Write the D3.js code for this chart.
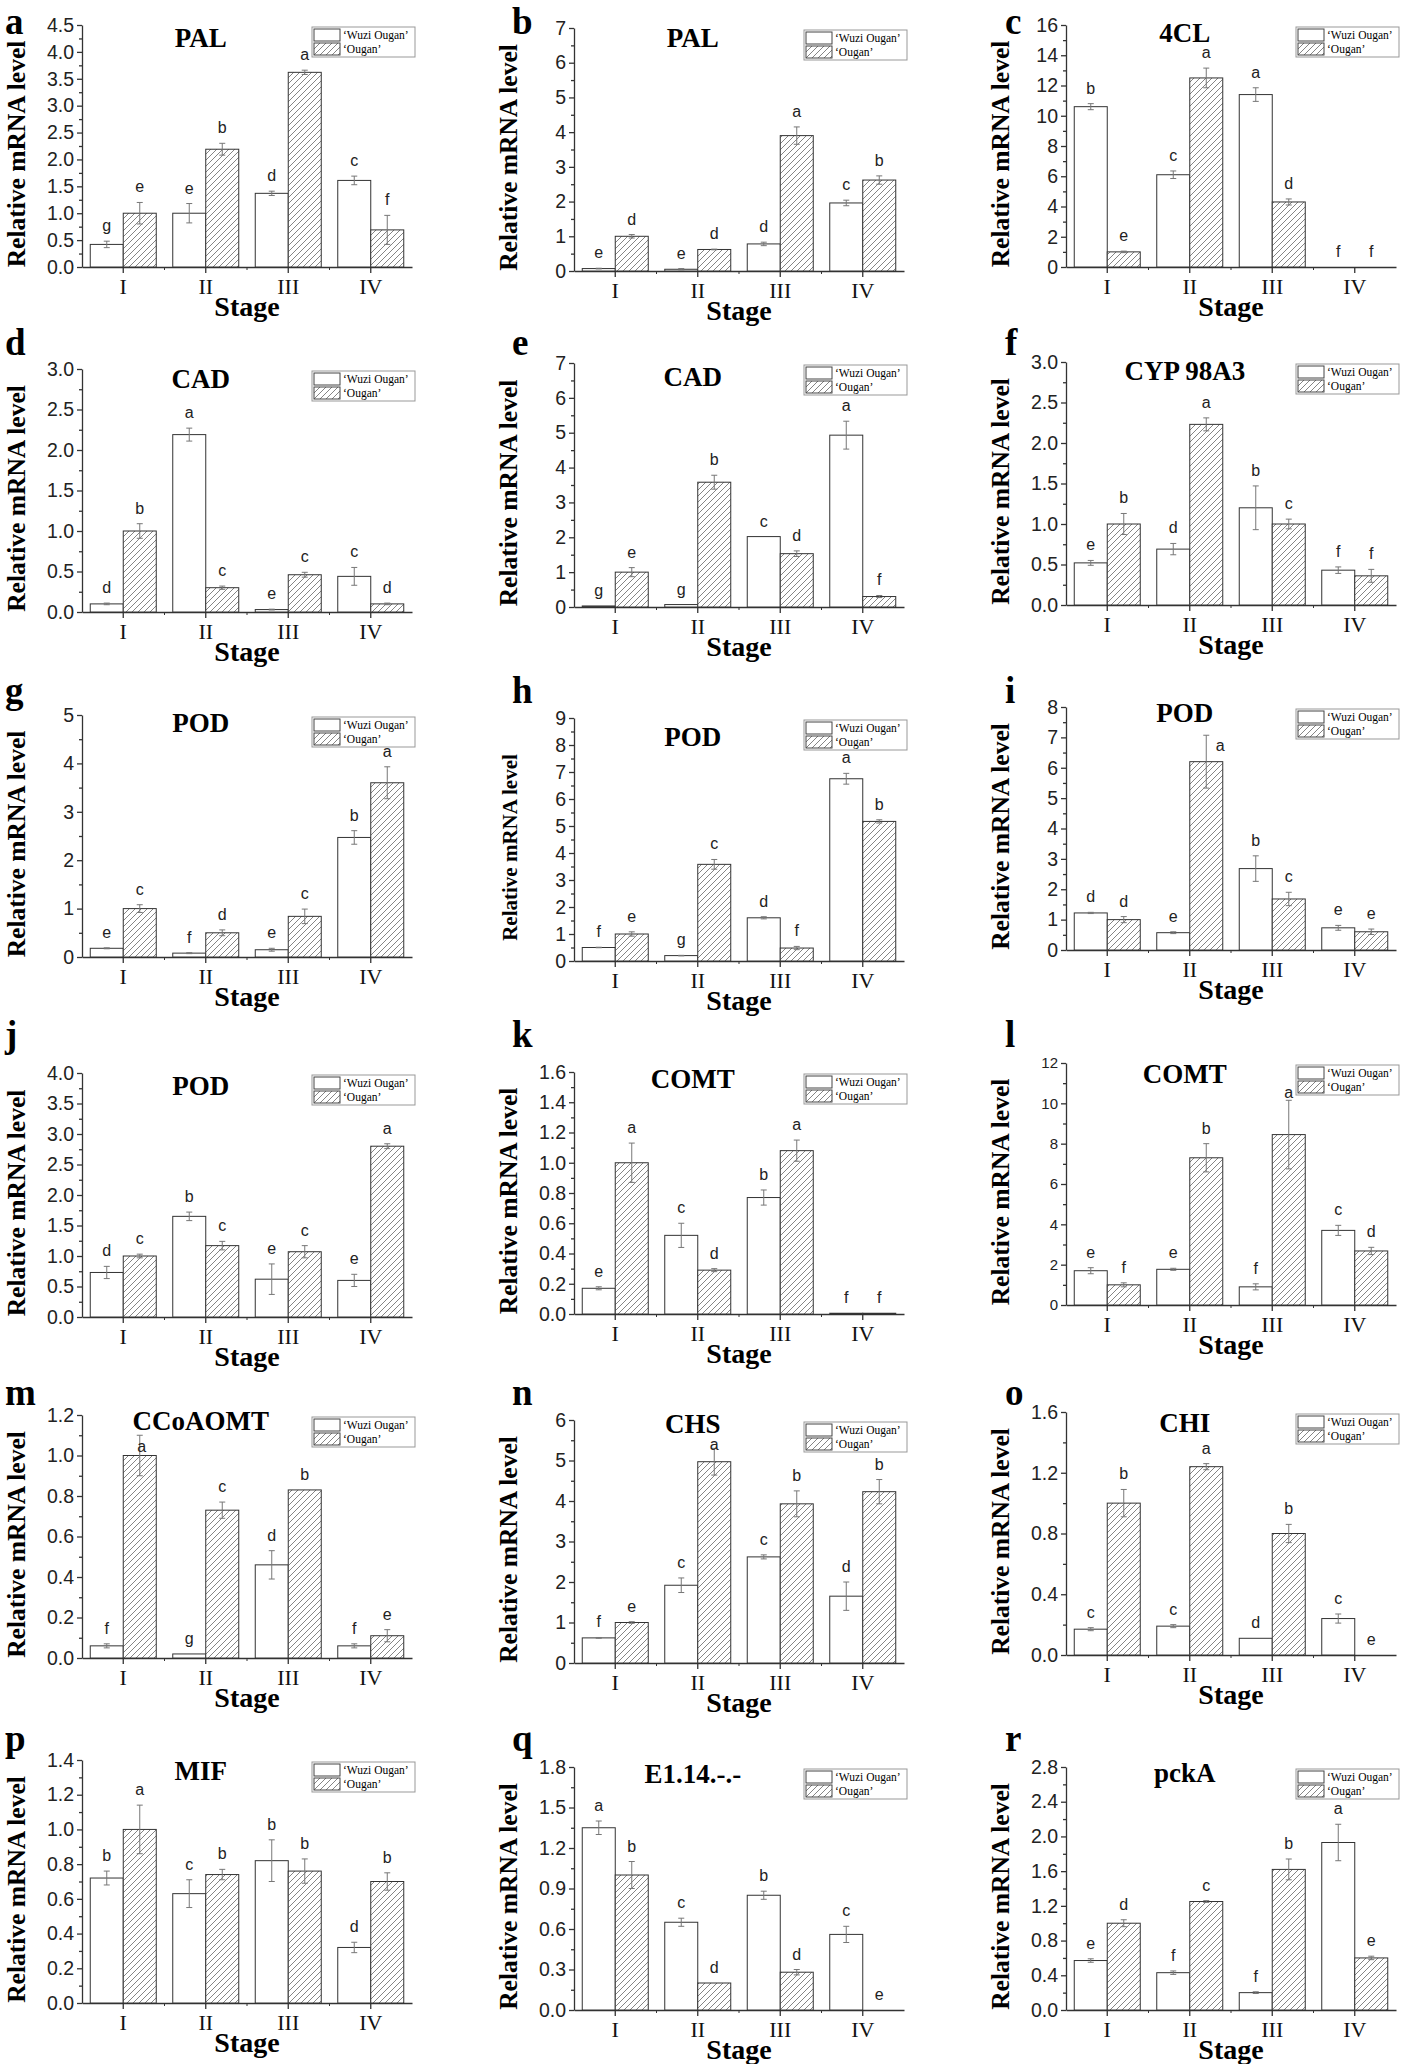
<!DOCTYPE html>
<html>
<head>
<meta charset="utf-8">
<script src="https://cdn.jsdelivr.net/npm/d3@7"></script>
<style>
    body { margin: 0; background: #fff; }
    svg { display: block; }
</style>
</head>
<body>
<div id="chart"></div>
<script>
//
// qRT-PCR panels a-r, 'Wuzi Ougan' vs 'Ougan'
//

var stages = ["I", "II", "III", "IV"];
var seriesNames = ["\u2018Wuzi Ougan\u2019", "\u2018Ougan\u2019"];
var panelLetters = ["a", "b", "c", "d", "e", "f", "g", "h", "i", "j", "k", "l", "m", "n", "o", "p", "q", "r"];
var genes = ["PAL", "PAL", "4CL", "CAD", "CAD", "CYP 98A3", "POD", "POD", "POD", "POD", "COMT", "COMT",
    "CCoAOMT", "CHS", "CHI", "MIF", "E1.14.-.-", "pckA"];

// y axis max and tick step for each panel
var yMax = [4.5, 7, 16, 3.0, 7, 3.0, 5, 9, 8, 4.0, 1.6, 12, 1.2, 6, 1.6, 1.4, 1.8, 2.8];
var yStep = [0.5, 1, 2, 0.5, 1, 0.5, 1, 1, 1, 0.5, 0.2, 2, 0.2, 1, 0.4, 0.2, 0.3, 0.4];

var wuziMean = [
    [0.42, 1.0, 1.37, 1.61],
    [0.07, 0.05, 0.78, 1.96],
    [10.6, 6.1, 11.4, 0],
    [0.1, 2.19, 0.03, 0.44],
    [0.03, 0.07, 2.02, 4.93],
    [0.52, 0.69, 1.2, 0.43],
    [0.18, 0.08, 0.15, 2.47],
    [0.5, 0.2, 1.6, 6.75],
    [1.22, 0.57, 2.68, 0.73],
    [0.73, 1.65, 0.62, 0.6],
    [0.17, 0.52, 0.77, 0.005],
    [1.7, 1.77, 0.9, 3.7],
    [0.06, 0.02, 0.46, 0.06],
    [0.62, 1.92, 2.62, 1.65],
    [0.17, 0.19, 0.11, 0.24],
    [0.72, 0.63, 0.82, 0.32],
    [1.35, 0.65, 0.85, 0.56],
    [0.57, 0.43, 0.2, 1.93]
];
var wuziErr = [
    [0.06, 0.18, 0.04, 0.08],
    [0.01, 0.02, 0.05, 0.08],
    [0.2, 0.25, 0.45, 0],
    [0.01, 0.08, 0.005, 0.11],
    [0, 0, 0, 0.4],
    [0.03, 0.07, 0.27, 0.04],
    [0.01, 0.01, 0.03, 0.14],
    [0.01, 0.01, 0.04, 0.2],
    [0.02, 0.03, 0.42, 0.08],
    [0.1, 0.07, 0.25, 0.1],
    [0.01, 0.08, 0.05, 0],
    [0.15, 0.05, 0.15, 0.25],
    [0.01, 0, 0.07, 0.01],
    [0.01, 0.18, 0.05, 0.35],
    [0.01, 0.01, 0, 0.03],
    [0.04, 0.08, 0.12, 0.03],
    [0.05, 0.03, 0.03, 0.06],
    [0.02, 0.02, 0.01, 0.21]
];
var ouganMean = [
    [1.0, 2.19, 3.62, 0.69],
    [1.0, 0.62, 3.9, 2.62],
    [1.0, 12.5, 4.3, 0],
    [1.0, 0.3, 0.46, 0.1],
    [1.0, 3.58, 1.53, 0.3],
    [1.0, 2.23, 1.0, 0.36],
    [1.0, 0.5, 0.84, 3.6],
    [1.0, 3.58, 0.48, 5.17],
    [1.0, 6.2, 1.68, 0.6],
    [1.0, 1.17, 1.07, 2.8],
    [1.0, 0.29, 1.08, 0.005],
    [1.0, 7.3, 8.45, 2.68],
    [1.0, 0.73, 0.83, 0.11],
    [1.0, 4.97, 3.93, 4.23],
    [1.0, 1.24, 0.8, 0],
    [1.0, 0.74, 0.76, 0.7],
    [1.0, 0.2, 0.28, 0],
    [1.0, 1.25, 1.62, 0.6]
];
var ouganErr = [
    [0.2, 0.11, 0.04, 0.27],
    [0.05, 0.01, 0.25, 0.12],
    [0.05, 0.65, 0.2, 0],
    [0.09, 0.02, 0.03, 0.01],
    [0.13, 0.2, 0.08, 0.03],
    [0.13, 0.08, 0.06, 0.08],
    [0.08, 0.06, 0.15, 0.33],
    [0.08, 0.18, 0.06, 0.06],
    [0.1, 0.87, 0.22, 0.09],
    [0.03, 0.07, 0.1, 0.04],
    [0.13, 0.01, 0.07, 0],
    [0.1, 0.7, 1.7, 0.18],
    [0.1, 0.04, 0, 0.03],
    [0.02, 0.33, 0.32, 0.3],
    [0.09, 0.02, 0.06, 0],
    [0.14, 0.03, 0.07, 0.05],
    [0.1, 0, 0.02, 0],
    [0.04, 0.01, 0.12, 0.02]
];
// significance letters, one per stage
var wuziSig = ["gedc", "eedc", "bcaf", "daec", "ggca", "edbf", "efeb", "fgda", "debe",
    "dbee", "ecbf", "eefc", "fgdf", "fccd", "ccdc", "bcbd", "acbc", "effa"];
var ouganSig = ["ebaf", "ddab", "eadf", "bccd", "ebdf", "bacf", "cdca", "ecfb", "dace",
    "ccca", "adaf", "fbad", "acbe", "eabb", "babe", "abbb", "bdde", "dcbe"];

// layout (pixels)
var width = 1418, height = 2064;
var colAxisX = [82, 574, 1066];
var plotW = 330;
var axisTop = [25, 28, 25, 369, 363, 362, 715, 718, 707, 1073, 1072, 1063, 1415, 1420, 1412, 1760, 1767, 1767];
var axisZero = [267, 271, 267, 612, 607, 605, 957, 961, 950, 1317, 1314, 1305, 1658, 1663, 1655, 2003, 2010, 2010];
var titleDy = [22, 19, 17, 19, 23, 18, 17, 28, 15, 22, 16, 20, 15, 13, 20, 20, 16, 15];
var letterX = [5, 512, 1005];
var letterBase = [34, 355, 703, 1047, 1405, 1751];
// letters that sit beside / on the error cap instead of above it: [panel, series, stage, dx, dy]
var sigNudge = [[8, 1, 1, 14, 26], [12, 1, 0, 2, 27], [13, 1, 1, 0, 12], [11, 1, 2, 0, 8]];

var serif = "'Liberation Serif', 'Times New Roman', serif";
var sans = "'Liberation Sans', Arial, sans-serif";

var svg = d3.select("#chart").append("svg")
    .attr("width", width)
    .attr("height", height);

// hatch for 'Ougan'
var defs = svg.append("defs");
defs.append("pattern")
    .attr("id", "hatch")
    .attr("patternUnits", "userSpaceOnUse")
    .attr("width", 6)
    .attr("height", 6)
    .append("path")
    .attr("d", "M-1,1 l2,-2 M0,6 l6,-6 M5,7 l2,-2")
    .attr("stroke", "#777")
    .attr("stroke-width", 0.9);

function nudge(idx, si, i) {
    for (var k = 0; k < sigNudge.length; k++) {
        var n = sigNudge[k];
        if (n[0] == idx && n[1] == si && n[2] == i) return [n[3], n[4]];
    }
    return [0, 0];
}

function drawPanel(idx) {
    var col = idx % 3;
    var row = Math.floor(idx / 3);
    var x0 = colAxisX[col];
    var top = axisTop[idx];
    var zero = axisZero[idx];
    var g = svg.append("g").attr("class", "panel");

    var x = d3.scaleBand().domain(stages).range([x0, x0 + plotW]).padding(0);
    var y = d3.scaleLinear().domain([0, yMax[idx]]).range([zero, top]);
    var bw = x.step() * 0.4;

    var step = yStep[idx];
    var nTicks = Math.round(yMax[idx] / step);
    var major = d3.range(nTicks + 1).map(function (i) { return +(i * step).toFixed(3); });
    var minor = d3.range(nTicks).map(function (i) { return +((i + 0.5) * step).toFixed(3); });
    var fmt = step < 1 ? d3.format(".1f") : d3.format("d");

    // y axis
    var tickFont = idx == 11 ? 15 : 19.5;
    var yAxis = g.append("g")
        .attr("transform", "translate(" + x0 + ",0)")
        .call(d3.axisLeft(y).tickValues(major).tickFormat(fmt).tickSize(5).tickSizeOuter(0).tickPadding(3));
    yAxis.selectAll("text")
        .style("font-family", sans)
        .style("font-size", tickFont + "px")
        .attr("fill", "#222");
    g.append("g")
        .attr("transform", "translate(" + x0 + ",0)")
        .call(d3.axisLeft(y).tickValues(minor).tickFormat("").tickSize(3).tickSizeOuter(0))
        .select(".domain").remove();

    // x axis
    var xAxis = g.append("g")
        .attr("transform", "translate(0," + zero + ")")
        .call(d3.axisBottom(x).tickSize(6).tickSizeOuter(0).tickPadding(5));
    xAxis.selectAll("text")
        .style("font-family", serif)
        .style("font-size", "22px")
        .attr("fill", "#111");
    g.append("g").selectAll("line")
        .data(stages.slice(1))
        .enter()
        .append("line")
        .attr("x1", function (d) { return x(d); })
        .attr("x2", function (d) { return x(d); })
        .attr("y1", zero)
        .attr("y2", zero + 3)
        .attr("stroke", "#333");
    g.selectAll(".domain, .tick line").attr("stroke", "#333").attr("stroke-width", 1.3);

    // bars
    var series = [
        { mean: wuziMean[idx], err: wuziErr[idx], sig: wuziSig[idx], off: -bw, fill: "#fff" },
        { mean: ouganMean[idx], err: ouganErr[idx], sig: ouganSig[idx], off: 0, fill: "url(#hatch)" }
    ];
    series.forEach(function (s, si) {
        var cx = function (d, i) { return x(stages[i]) + x.bandwidth() / 2 + s.off; };
        var bars = g.append("g");
        bars.selectAll("rect.bg")
            .data(s.mean)
            .enter()
            .append("rect")
            .attr("x", cx)
            .attr("y", function (d) { return y(d); })
            .attr("width", bw)
            .attr("height", function (d) { return zero - y(d); })
            .attr("fill", "#fff");
        bars.selectAll("rect.fg")
            .data(s.mean)
            .enter()
            .append("rect")
            .attr("x", cx)
            .attr("y", function (d) { return y(d); })
            .attr("width", bw)
            .attr("height", function (d) { return zero - y(d); })
            .attr("fill", s.fill)
            .attr("stroke", "#333")
            .attr("stroke-width", 1);

        // error bars
        var eb = g.append("g").attr("stroke", "#777").attr("stroke-width", 1);
        s.mean.forEach(function (m, i) {
            var e = s.err[i];
            if (e <= 0) return;
            var c = cx(m, i) + bw / 2;
            eb.append("line").attr("x1", c).attr("x2", c).attr("y1", y(m + e)).attr("y2", y(Math.max(0, m - e)));
            eb.append("line").attr("x1", c - 3).attr("x2", c + 3).attr("y1", y(m + e)).attr("y2", y(m + e));
            eb.append("line").attr("x1", c - 3).attr("x2", c + 3).attr("y1", y(Math.max(0, m - e))).attr("y2", y(Math.max(0, m - e)));
        });

        // significance letters
        g.append("g").selectAll("text")
            .data(s.mean)
            .enter()
            .append("text")
            .attr("x", function (d, i) { return cx(d, i) + bw / 2 + nudge(idx, si, i)[0]; })
            .attr("y", function (d, i) { return y(d + s.err[i]) - 10 + nudge(idx, si, i)[1]; })
            .attr("text-anchor", "middle")
            .style("font-family", sans)
            .style("font-size", "16px")
            .attr("fill", "#222")
            .text(function (d, i) { return s.sig[i]; });
    });

    // panel letter
    g.append("text")
        .attr("x", letterX[col])
        .attr("y", letterBase[row])
        .style("font-family", serif)
        .style("font-weight", "bold")
        .style("font-size", "37px")
        .text(panelLetters[idx]);

    // gene title
    g.append("text")
        .attr("x", x0 + plotW * 0.36)
        .attr("y", top + titleDy[idx])
        .attr("text-anchor", "middle")
        .style("font-family", serif)
        .style("font-weight", "bold")
        .style("font-size", "27px")
        .text(genes[idx]);

    // axis titles
    g.append("text")
        .attr("transform", "translate(" + (x0 - 57) + "," + ((top + zero) / 2 + 8) + ") rotate(-90)")
        .attr("text-anchor", "middle")
        .style("font-family", serif)
        .style("font-weight", "bold")
        .style("font-size", (idx == 7 ? 21 : 25.5) + "px")
        .text("Relative mRNA level");
    g.append("text")
        .attr("x", x0 + plotW / 2)
        .attr("y", zero + 49)
        .attr("text-anchor", "middle")
        .style("font-family", serif)
        .style("font-weight", "bold")
        .style("font-size", "28px")
        .text("Stage");

    // legend
    var lx = x0 + plotW - 100, ly = top + 2;
    var legend = g.append("g").attr("transform", "translate(" + lx + "," + ly + ")");
    legend.append("rect")
        .attr("width", 103).attr("height", 30)
        .attr("fill", "#fff").attr("stroke", "#999").attr("stroke-width", 1);
    seriesNames.forEach(function (name, i) {
        legend.append("rect")
            .attr("x", 2).attr("y", 2 + i * 14)
            .attr("width", 26).attr("height", 12)
            .attr("fill", i == 0 ? "#fff" : "url(#hatch)")
            .attr("stroke", "#444").attr("stroke-width", 1);
        legend.append("text")
            .attr("x", 31).attr("y", 12 + i * 14)
            .style("font-family", serif)
            .style("font-size", "11.5px")
            .text(name);
    });
}

for (var p = 0; p < genes.length; p++) {
    drawPanel(p);
}
</script>
</body>
</html>
